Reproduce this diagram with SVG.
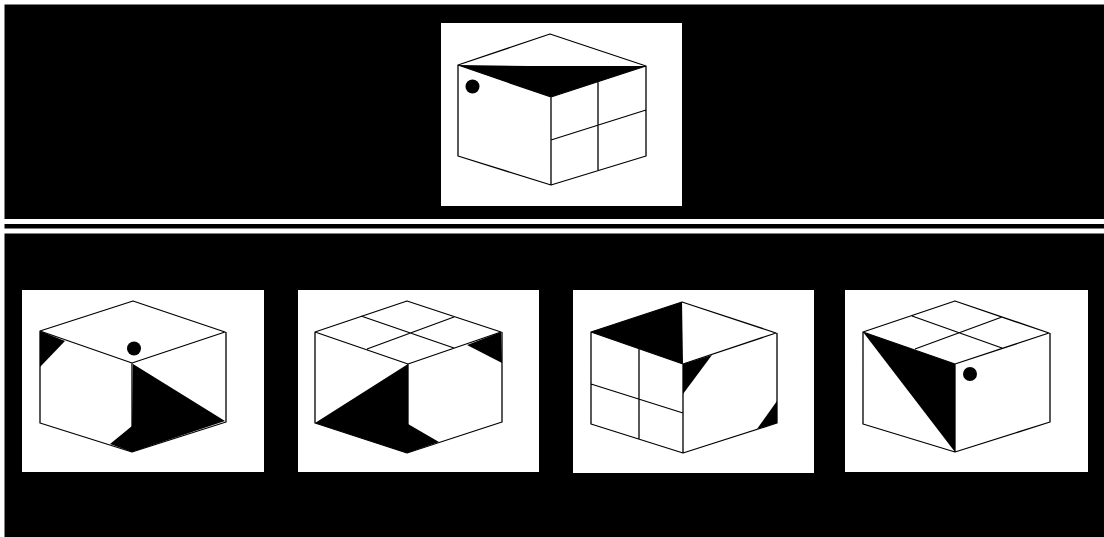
<svg xmlns="http://www.w3.org/2000/svg" width="1104" height="537" viewBox="0 0 1104 537">
<style>
.panel{fill:#fff}
.line{fill:none;stroke:#000;stroke-width:1.3;stroke-linejoin:round}
.solid{fill:#000;stroke:none}
</style>
<rect width="1104" height="537" fill="#fff"/>
<rect x="4.500" y="4.500" width="1099.500" height="214.500" fill="#000"/>
<rect x="4.500" y="224" width="1099.500" height="4.500" fill="#000"/>
<rect x="4.500" y="233.500" width="1099.500" height="303.500" fill="#000"/>
<g id="question">
<rect class="panel" x="441" y="23" width="241" height="183"/>
<polygon class="solid" points="458,65 528,66 646,66 551,97"/>
<path class="line" d="M458,65L550,34L646,66L551,97ZM458,65V156L551,185L646,156V66M551,97V185M598,82V170M551,140L646,110"/>
<circle class="solid" cx="472.500" cy="86.500" r="7"/>
</g>
<g id="option-a">
<rect class="panel" x="22" y="290" width="242" height="182"/>
<polygon class="solid" points="40,331 65,341 40,367"/>
<polygon class="solid" points="133,364 225,421 132,452 110,444 132,426"/>
<path class="line" d="M40,331L133,301L225,332L132,363ZM40,331V423L132,452L226,422V332M132,363V452"/>
<circle class="solid" cx="134" cy="348.500" r="7"/>
</g>
<g id="option-b">
<rect class="panel" x="298" y="290" width="241" height="182"/>
<polygon class="solid" points="408,364 408,424 439,442 407,453 315,423"/>
<polygon class="solid" points="501,332 502,363 467,345"/>
<path class="line" d="M315,332L407,301L501,332L408,364ZM315,332V423L407,453L502,422V332M408,364V453M361,316L454,348M454,317L367,349"/>
</g>
<g id="option-c">
<rect class="panel" x="573" y="290" width="241" height="183"/>
<polygon class="solid" points="591,332 682,302 683,364"/>
<polygon class="solid" points="683,364 712,355 683,394"/>
<polygon class="solid" points="777,401 777,423 757,429"/>
<path class="line" d="M591,332L682,302L776,333L683,364ZM591,332V424L683,453L777,423V333M683,364V453M639,349V439M591,384L683,413"/>
</g>
<g id="option-d">
<rect class="panel" x="845" y="290" width="243" height="182"/>
<polygon class="solid" points="863,332 955,364 955,452"/>
<path class="line" d="M863,332L955,301L1049,333L955,364ZM863,332V424L955,452L1050,422V333M955,364V452M912,316L1002,348M1002,317L915,349"/>
<circle class="solid" cx="970" cy="374" r="7"/>
</g>
<g id="connectors"/>
</svg>
